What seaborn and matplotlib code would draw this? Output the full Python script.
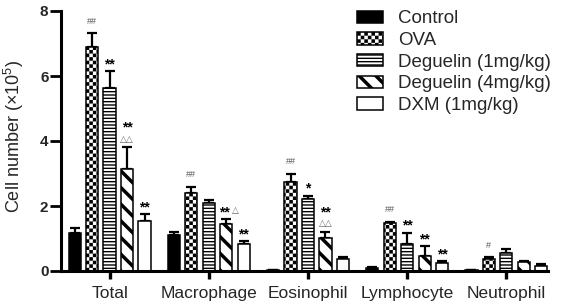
import warnings
warnings.filterwarnings('ignore')
import numpy as np
import pandas as pd
import matplotlib
matplotlib.use('Agg')
import matplotlib.pyplot as plt
import seaborn as sns
from matplotlib import hatch as mhatch
from matplotlib.path import Path

# ---------------- data ----------------
categories = ['Total', 'Macrophage', 'Eosinophil', 'Lymphocyte', 'Neutrophil']
groups = ['Control', 'OVA', 'Deguelin (1mg/kg)', 'Deguelin (4mg/kg)', 'DXM (1mg/kg)']

control_mean = [1.18, 1.10, 0.03, 0.08, 0.02]
control_sem = [0.15, 0.10, 0.01, 0.03, 0.01]
ova_mean = [6.90, 2.41, 2.75, 1.47, 0.38]
ova_sem = [0.41, 0.18, 0.25, 0.04, 0.04]
deg1_mean = [5.62, 2.08, 2.21, 0.83, 0.54]
deg1_sem = [0.54, 0.12, 0.11, 0.35, 0.13]
deg4_mean = [3.14, 1.44, 1.03, 0.46, 0.27]
deg4_sem = [0.67, 0.16, 0.18, 0.31, 0.04]
dxm_mean = [1.54, 0.82, 0.38, 0.25, 0.15]
dxm_sem = [0.20, 0.11, 0.06, 0.05, 0.06]

yticks = [0, 2, 4, 6, 8]

mark_cats = ['Total', 'Total', 'Total', 'Total',
             'Macrophage', 'Macrophage', 'Macrophage',
             'Eosinophil', 'Eosinophil', 'Eosinophil',
             'Lymphocyte', 'Lymphocyte', 'Lymphocyte', 'Lymphocyte',
             'Neutrophil']
mark_groups = ['OVA', 'Deguelin (1mg/kg)', 'Deguelin (4mg/kg)', 'DXM (1mg/kg)',
               'OVA', 'Deguelin (4mg/kg)', 'DXM (1mg/kg)',
               'OVA', 'Deguelin (1mg/kg)', 'Deguelin (4mg/kg)',
               'OVA', 'Deguelin (1mg/kg)', 'Deguelin (4mg/kg)', 'DXM (1mg/kg)',
               'OVA']
mark_texts = ['##', '**', '**\n△△', '**',
              '##', '** △', '**',
              '##', '*', '**\n△△',
              '##', '**', '**', '**',
              '#']

means = [control_mean, ova_mean, deg1_mean, deg4_mean, dxm_mean]
sems = [control_sem, ova_sem, deg1_sem, deg4_sem, dxm_sem]

df = pd.DataFrame({
    'cell': [c for g in groups for c in categories],
    'group': [g for g in groups for c in categories],
    'value': [v for m in means for v in m],
})


# ---------------- checkerboard hatch ----------------
class CheckerHatch(mhatch.HatchPatternBase):
    def __init__(self, hatch, density):
        self.n = 28 if 'c' in hatch else 0
        self.num_vertices = (self.n * self.n // 2) * 5

    def set_vertices_and_codes(self, vertices, codes):
        n = self.n
        s = 1.0 / n
        sh = 1.0 / 72.0 / 2.0
        k = 0
        for i in range(n):
            for j in range(n):
                if (i + j) % 2:
                    continue
                x0, y0 = i * s + sh, j * s + sh
                x1, y1 = (i + 1) * s - sh, (j + 1) * s - sh
                vertices[k:k + 5] = [[x0, y0], [x1, y0], [x1, y1], [x0, y1], [x0, y0]]
                codes[k:k + 5] = [Path.MOVETO, Path.LINETO, Path.LINETO,
                                  Path.LINETO, Path.CLOSEPOLY]
                k += 5


mhatch._hatch_types.append(CheckerHatch)


def thick_hatch(artist, lw):
    orig = artist.draw

    def draw(renderer, *args, **kwargs):
        with plt.rc_context({'hatch.linewidth': lw}):
            return orig(renderer, *args, **kwargs)
    artist.draw = draw
    if hasattr(artist, 'set_hatch_linewidth'):
        artist.set_hatch_linewidth(lw)


# ---------------- style ----------------
sns.set_style('ticks')
plt.rcParams['font.family'] = ['Liberation Sans', 'DejaVu Sans']
plt.rcParams['mathtext.fontset'] = 'custom'
plt.rcParams['mathtext.rm'] = 'Liberation Sans'
plt.rcParams['hatch.linewidth'] = 1.0
plt.rcParams['hatch.color'] = 'black'

W, H = 562, 306
fig = plt.figure(figsize=(W / 100, H / 100), dpi=100)
ax = fig.add_axes([61 / W, 35 / H, (548 - 61) / W, 260 / H])

palette = ['black', 'white', 'white', 'white', 'white']
sns.barplot(data=df, x='cell', y='value', hue='group', order=categories,
            hue_order=groups, palette=palette, saturation=1, width=0.88,
            gap=0.3, errorbar=None, edgecolor='black', linewidth=1.1,
            legend=False, ax=ax)

bar_containers = list(ax.containers)
hatches = ['', 'c', '-----', '\\\\', '']
for i, cont in enumerate(bar_containers):
    for p in cont:
        p.set_hatch(hatches[i])
        p.set_edgecolor('black')
        if i == 3:
            thick_hatch(p, 2.5)

# error bars (upper only)
bar_tops = {}
for i, cont in enumerate(bar_containers):
    xs = [p.get_x() + p.get_width() / 2 for p in cont]
    hs = [p.get_height() for p in cont]
    ax.errorbar(xs, hs, yerr=[np.zeros(len(hs)), sems[i]], fmt='none',
                ecolor='black', elinewidth=1.6, capsize=3.5, capthick=1.6,
                zorder=0.9)
    for j, (x, h) in enumerate(zip(xs, hs)):
        bar_tops[(categories[j], groups[i])] = (x, h + sems[i][j])

# significance marks
styles = {
    '*': dict(color='black', fontsize=10, fontweight='bold'),
    '#': dict(color='#555555', fontsize=6.5),
    '△': dict(color='#666666', fontsize=6.5, family=['DejaVu Sans']),
}
base_dy = {'*': 2.0, '#': 7.0, '△': 4.0}
for cat, grp, txt in zip(mark_cats, mark_groups, mark_texts):
    x, top = bar_tops[(cat, grp)]
    lines = txt.split('\n')[::-1]
    for row, line in enumerate(lines):
        toks = line.split(' ')
        for t_i, tok in enumerate(toks):
            kind = tok[0]
            dy = base_dy[kind] + (9.0 if row > 0 else 0)
            if len(toks) == 1:
                dx, ha = 0, 'center'
            elif t_i == 0:
                dx, ha = 2.5, 'right'
            else:
                dx, ha = 4.0, 'left'
            ax.annotate(tok, xy=(x, top), xytext=(dx, dy),
                        textcoords='offset points', ha=ha, va='baseline',
                        **styles[kind])

# axes
ax.set_xlim(-0.49, 4.42)
ax.set_ylim(0, 8)
ax.set_yticks(yticks)
ax.set_yticklabels([str(v) for v in yticks], fontsize=11, fontweight='bold')
ax.tick_params(axis='y', length=8, width=2, pad=1, color='black')
ax.tick_params(axis='x', length=6, width=2.4, pad=4.5, labelsize=12.5, color='black')
ax.set_xlabel('')
ax.set_ylabel('Cell number (×10$^{\\mathregular{5}}$)', fontsize=13)
ax.yaxis.set_label_coords(-0.072, 0.517)
for s in ['top', 'right']:
    ax.spines[s].set_visible(False)
for s in ['left', 'bottom']:
    ax.spines[s].set_linewidth(2.2)
    ax.spines[s].set_color('black')

handles = [bar_containers[i].patches[0] for i in range(len(groups))]
leg = ax.legend(handles, groups, loc='upper left', bbox_to_anchor=(357 / W, 0.966),
                bbox_transform=fig.transFigure, frameon=False, fontsize=13.5,
                handlelength=1.39, handleheight=0.64, handletextpad=0.8,
                labelspacing=0.25, borderpad=0, borderaxespad=0)
thick_hatch(leg.legend_handles[3], 2.5)

fig.savefig('out.png', dpi=100)
